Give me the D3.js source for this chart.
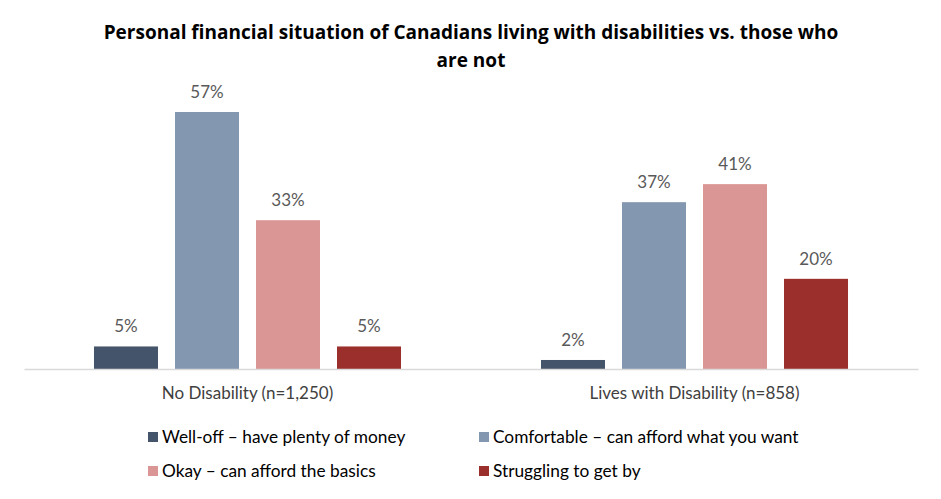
<!DOCTYPE html>
<html>
<head>
<meta charset="utf-8">
<script src="https://cdn.jsdelivr.net/npm/d3@7"></script>
<style>
body { margin:0; background:#fff; }
text { font-family: Lato, "Open Sans", sans-serif; }
</style>
</head>
<body>
<div id="chart"></div>
<script>
// data
var categories = ["No Disability (n=1,250)", "Lives with Disability (n=858)"];
var seriesNames = ["Well-off \u2013 have plenty of money", "Comfortable \u2013 can afford what you want",
                   "Okay \u2013 can afford the basics", "Struggling to get by"];
var seriesColors = ["#44546A", "#8497B0", "#DA9694", "#9A2F2C"];
var noDisability = [5, 57, 33, 5];
var withDisability = [2, 37, 41, 20];

var width = 941, height = 499;
var margin = {top:112, right:23, bottom:130, left:24};
var plotW = width - margin.left - margin.right;
var plotH = 369 - 112;

var svg = d3.select("#chart").append("svg")
    .attr("width", width)
    .attr("height", height);

// title
var title = svg.append("text")
    .attr("text-anchor", "middle")
    .attr("font-weight", "bold")
    .attr("font-size", "19px")
    .style("font-family", "'Open Sans', sans-serif")
    .attr("fill", "#000");
title.append("tspan").attr("x", 471).attr("y", 39).text("Personal financial situation of Canadians  living with disabilities vs. those who");
title.append("tspan").attr("x", 471).attr("y", 67).text("are not");

var g = svg.append("g").attr("transform", "translate(" + margin.left + "," + margin.top + ")");

var rows = categories.map(function(c, i) {
  return {cat:c, values:(i == 0 ? noDisability : withDisability)};
});

var x0 = d3.scaleBand().domain(categories).range([0, plotW]);
var x1 = d3.scaleBand().domain(d3.range(seriesNames.length))
    .range([0, x0.bandwidth()]).paddingInner(0.21).paddingOuter(0.864);
var y = d3.scaleLinear().domain([0, 57]).range([plotH, 0]);

var groups = g.selectAll(".grp")
    .data(rows)
    .enter()
    .append("g")
    .attr("class", "grp")
    .attr("transform", function(d) { return "translate(" + x0(d.cat) + ",0)"; });

groups.selectAll("rect")
    .data(function(d) { return d.values; })
    .enter()
    .append("rect")
    .attr("x", function(d, i) { return x1(i); })
    .attr("width", x1.bandwidth())
    .attr("y", function(d) { return y(d); })
    .attr("height", function(d) { return plotH - y(d); })
    .attr("fill", function(d, i) { return seriesColors[i]; });

groups.selectAll(".label")
    .data(function(d) { return d.values; })
    .enter()
    .append("text")
    .attr("class", "label")
    .attr("x", function(d, i) { return x1(i) + x1.bandwidth() / 2; })
    .attr("y", function(d) { return y(d) - 14; })
    .attr("text-anchor", "middle")
    .attr("font-size", "17px")
    .attr("fill", "#595959")
    .text(function(d) { return d + "%"; });

// x axis
var xAxis = d3.axisBottom(x0).tickSize(0).tickPadding(18);
var xAxis_g = g.append("g")
    .attr("class", "x axis")
    .attr("transform", "translate(0," + plotH + ")")
    .call(xAxis);
xAxis_g.select(".domain").attr("stroke", "#D9D9D9").attr("stroke-width", 1.5);
xAxis_g.selectAll("text")
    .attr("font-size", "17px")
    .attr("fill", "#404040")
    .style("font-family", "Lato, sans-serif");

// legend
var legendX = [148, 479];
var legendY = [437, 471];
var legend = svg.selectAll(".legend")
    .data(seriesNames)
    .enter()
    .append("g")
    .attr("class", "legend")
    .attr("transform", function(d, i) {
      return "translate(" + legendX[i % 2] + "," + legendY[Math.floor(i / 2)] + ")";
    });
legend.append("rect")
    .attr("x", 0).attr("y", -5)
    .attr("width", 10).attr("height", 10)
    .attr("fill", function(d, i) { return seriesColors[i]; });
legend.append("text")
    .attr("x", 14).attr("y", 0)
    .attr("dy", "0.35em")
    .attr("font-size", "17.3px")
    .attr("fill", "#000")
    .text(function(d) { return d; });
</script>
</body>
</html>
